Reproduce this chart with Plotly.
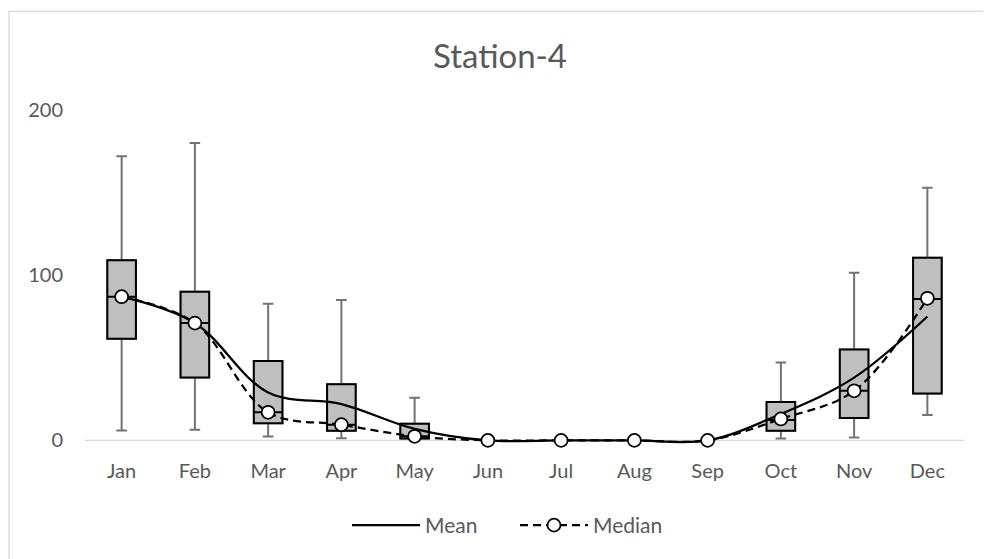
import plotly.graph_objects as go

months = ["Jan", "Feb", "Mar", "Apr", "May", "Jun", "Jul", "Aug", "Sep", "Oct", "Nov", "Dec"]
mean_vals = [87, 71, 29, 22, 7, 0, 0, 0, 0, 16, 38, 75]
median_vals = [87, 71, 17, 9.5, 2.5, 0, 0, 0, 0, 13, 30, 86]

box_months = ["Jan", "Feb", "Mar", "Apr", "May", "Oct", "Nov", "Dec"]
box_low = [6, 6.5, 2.3, 1.3, 0.5, 1.1, 1.7, 15.3]
box_q1 = [61.5, 38, 10.4, 5.8, 1.2, 5.8, 13.6, 28.4]
box_med = [87, 71, 17, 9.5, 2.5, 12.4, 30, 85.6]
box_q3 = [109, 90, 48, 34, 10, 23.3, 55, 110.6]
box_high = [172, 180, 82.7, 85, 25.8, 47.2, 101.5, 153]

FONT = "Lato"
TXT = "#595959"

fig = go.Figure()

# whiskers (gray)
fig.add_trace(go.Box(
    x=box_months, q1=box_q1, median=box_med, q3=box_q3,
    lowerfence=box_low, upperfence=box_high,
    fillcolor="#BFBFBF", line=dict(color="#737373", width=2),
    width=0.39, whiskerwidth=0.37, showlegend=False, hoverinfo="skip",
    boxpoints=False,
))
# boxes (black outline)
fig.add_trace(go.Box(
    x=box_months, q1=box_q1, median=box_med, q3=box_q3,
    lowerfence=box_q1, upperfence=box_q3,
    fillcolor="#BFBFBF", line=dict(color="#000000", width=2),
    width=0.39, whiskerwidth=0.37, showlegend=False, hoverinfo="skip",
    boxpoints=False,
))

fig.add_trace(go.Scatter(
    x=months, y=mean_vals, name="Mean", mode="lines",
    line=dict(color="#000000", width=2.25, shape="spline", smoothing=1),
    cliponaxis=False,
))
fig.add_trace(go.Scatter(
    x=months, y=median_vals, name="Median", mode="lines+markers",
    line=dict(color="#000000", width=2.25, dash="8px,5px", shape="spline", smoothing=1),
    marker=dict(symbol="circle", size=13, color="white", line=dict(color="#000000", width=1.75)),
    cliponaxis=False,
))

# page has an 8px body margin; figure sized/offset to compensate
W, H = 983, 551
L, T = 77, 102
pw = 879
ymin, ymax = -4, 200
ph = (ymax - ymin) * 1.65
R = W - L - pw
B = H - T - ph

fig.update_layout(
    width=W, height=H,
    margin=dict(l=L, r=R, t=T, b=B, pad=0),
    paper_bgcolor="white", plot_bgcolor="white",
    boxmode="overlay",
    title=dict(text="Station-4", xref="paper", x=(500 - 85) / pw, xanchor="center",
               y=1 - 48 / H, yanchor="middle",
               font=dict(family=FONT, size=33, color=TXT)),
    font=dict(family=FONT, size=20, color=TXT),
    showlegend=True,
    legend=dict(orientation="h", x=(515 - 85) / pw, xanchor="center", y=-78.4 / ph, yanchor="middle",
                font=dict(family=FONT, size=21, color=TXT), itemwidth=68, entrywidth=85),
    xaxis=dict(type="category", categoryorder="array", categoryarray=months,
               range=[-0.5, 11.5], showline=False,
               showgrid=False, zeroline=False, ticks="", ticklabelstandoff=10,
               tickfont=dict(size=20, color=TXT)),
    yaxis=dict(range=[ymin, ymax], tickvals=[0, 100, 200], showline=False, showgrid=False,
               zeroline=False, ticks="", ticklabelstandoff=21, tickfont=dict(size=20, color=TXT)),
    shapes=[
        dict(type="rect", xref="paper", yref="paper",
             x0=(1 - L) / pw, x1=(W + 20 - L) / pw,
             y0=-(B + 30) / ph, y1=1 + (T - 3.5) / ph,
             line=dict(color="#D9D9D9", width=1.3), fillcolor="rgba(0,0,0,0)", layer="below"),
        dict(type="line", xref="paper", yref="y", x0=0, x1=1, y0=0, y1=0,
             line=dict(color="#D9D9D9", width=1.3), layer="below"),
    ],
)

fig.write_html("out.html")
